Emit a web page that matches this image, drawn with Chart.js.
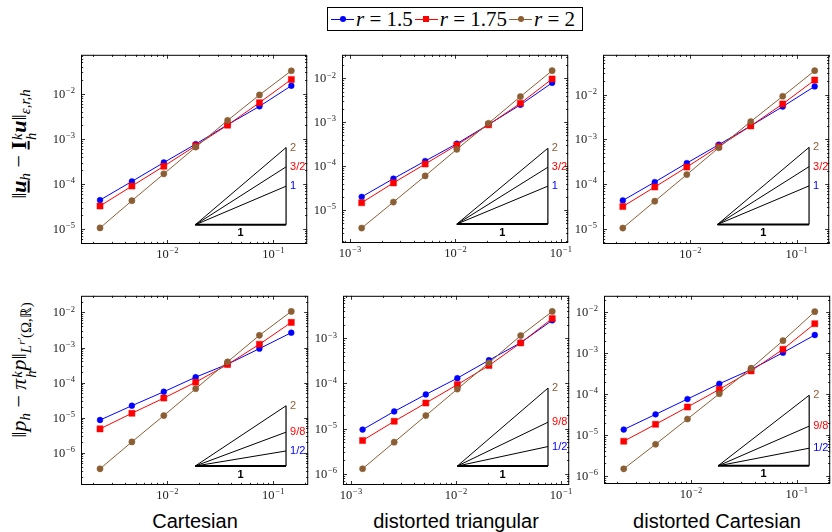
<!DOCTYPE html>
<html><head><meta charset="utf-8">
<script src="https://cdn.jsdelivr.net/npm/chart.js@4.4.1/dist/chart.umd.min.js"></script>
<style>
html,body{margin:0;padding:0;background:#fff;width:832px;height:532px;overflow:hidden;position:relative;}
canvas.p{position:absolute;}
.yt{position:absolute;transform:translate(-50%,-50%) rotate(-90deg);white-space:nowrap;font-family:'Liberation Serif',serif;font-size:22px;line-height:1;color:#000;}
.sb{font-size:0.68em;vertical-align:-0.32em;font-style:italic;}
.ss{display:inline-flex;flex-direction:column;font-size:0.66em;line-height:1;vertical-align:0.3em;font-style:italic;margin-left:1px;}
.ul{text-decoration:underline;text-decoration-thickness:1.5px;text-underline-offset:2px;}
.xt{position:absolute;font-family:'Liberation Sans',Arial,sans-serif;font-size:20px;color:#000;transform:translateX(-50%);white-space:nowrap;line-height:1;}
#legend{position:absolute;left:327px;top:7px;width:256px;height:24px;border:1px solid #000;display:flex;align-items:center;box-sizing:border-box;padding-left:3px;font-family:'Liberation Serif',serif;font-size:21px;}
.li{display:flex;align-items:center;}
.smp{position:relative;width:23px;height:12px;margin-right:2px;}
.smp .ln{position:absolute;left:0;right:0;top:5.5px;height:1px;}
.smp .mk{position:absolute;left:50%;top:50%;transform:translate(-50%,-50%);}
.lt{margin-right:2px;}
</style></head><body>
<div id="legend">
  <div class="li"><div class="smp"><div class="ln" style="background:#0000ff"></div><div class="mk" style="width:6px;height:6px;border-radius:50%;background:#0000ff"></div></div><span class="lt"><i>r</i> = 1.5</span></div>
  <div class="li"><div class="smp"><div class="ln" style="background:#ff0000"></div><div class="mk" style="width:6px;height:6px;background:#ff0000"></div></div><span class="lt"><i>r</i> = 1.75</span></div>
  <div class="li"><div class="smp"><div class="ln" style="background:#8b5e34"></div><div class="mk" style="width:6px;height:6px;border-radius:50%;background:#8b5e34"></div></div><span class="lt"><i>r</i> = 2</span></div>
</div>
<div class="yt" style="left:23px;top:144px">‖<b><i class="ul">u</i></b><span class="sb">h</span> − <b class="ul">I</b><span class="ss"><span>k</span><span>h</span></span><b><i>u</i></b>‖<span class="sb">ε,r,h</span></div>
<div class="yt" style="left:23px;top:370px">‖<i>p</i><span class="sb">h</span> − <i>π</i><span class="ss"><span>k</span><span>h</span></span><i>p</i>‖<span class="sb"><i>L</i><sup style="font-size:0.75em">r′</sup><span style="font-style:normal">(Ω,ℝ)</span></span></div>
<div class="xt" style="left:195px;top:511px">Cartesian</div>
<div class="xt" style="left:456px;top:511px">distorted triangular</div>
<div class="xt" style="left:717px;top:511px">distorted Cartesian</div>
<script>
// mesh sizes h (left to right)
const hCart = [0.00231, 0.00462, 0.00925, 0.0185, 0.037, 0.074, 0.148];
const hTri  = [0.00129, 0.00258, 0.00516, 0.0103, 0.0206, 0.0413, 0.0825];
const seriesNames = ['r = 1.5', 'r = 1.75', 'r = 2'];
// top row: velocity error, Cartesian
const uCart15  = [4.4e-5, 1.14e-4, 3.0e-4, 7.7e-4, 2.07e-3, 5.3e-3, 1.52e-2];
const uCart175 = [3.25e-5, 9.0e-5, 2.48e-4, 7.1e-4, 2.03e-3, 6.4e-3, 2.1e-2];
const uCart2   = [1.06e-5, 4.26e-5, 1.68e-4, 6.6e-4, 2.58e-3, 9.5e-3, 3.27e-2];
// top row: distorted triangular
const uTri15   = [2.0e-5, 5.2e-5, 1.31e-4, 3.25e-4, 8.9e-4, 2.5e-3, 7.9e-3];
const uTri175  = [1.47e-5, 4.16e-5, 1.12e-4, 3.03e-4, 8.77e-4, 2.71e-3, 9.7e-3];
const uTri2    = [3.9e-6, 1.52e-5, 6.0e-5, 2.42e-4, 9.5e-4, 3.85e-3, 1.5e-2];
// top row: distorted Cartesian
const uDist15  = [4.3e-5, 1.11e-4, 2.95e-4, 7.6e-4, 2.0e-3, 5.4e-3, 1.53e-2];
const uDist175 = [3.15e-5, 8.6e-5, 2.4e-4, 6.95e-4, 2.0e-3, 6.2e-3, 2.12e-2];
const uDist2   = [1.04e-5, 4.14e-5, 1.63e-4, 6.5e-4, 2.5e-3, 9.2e-3, 3.43e-2];
// bottom row: pressure error
const pCart15  = [8.6e-6, 2.2e-5, 5.5e-5, 1.43e-4, 3.35e-4, 9.3e-4, 2.65e-3];
const pCart175 = [4.8e-6, 1.34e-5, 3.63e-5, 1.03e-4, 3.28e-4, 1.24e-3, 5.2e-3];
const pCart2   = [3.5e-7, 2.05e-6, 1.15e-5, 6.7e-5, 3.9e-4, 2.23e-3, 1.07e-2];
const pTri15   = [9.5e-6, 2.4e-5, 5.7e-5, 1.31e-4, 3.27e-4, 8.0e-4, 2.5e-3];
const pTri175  = [5.45e-6, 1.45e-5, 3.68e-5, 9.4e-5, 2.5e-4, 7.9e-4, 2.76e-3];
const pTri2    = [1.29e-6, 5.0e-6, 1.94e-5, 7.5e-5, 2.86e-4, 1.15e-3, 3.95e-3];
const pDist15  = [1.35e-5, 3.17e-5, 7.5e-5, 1.77e-4, 3.94e-4, 1.02e-3, 2.75e-3];
const pDist175 = [7.0e-6, 1.81e-5, 4.78e-5, 1.29e-4, 3.66e-4, 1.23e-3, 5.2e-3];
const pDist2   = [1.48e-6, 5.9e-6, 2.44e-5, 1.01e-4, 4.25e-4, 2.0e-3, 1.02e-2];
// slope triangles
const slopesTop = [1, 1.5, 2];
const slopeLabelsTop = ['1', '3/2', '2'];
const slopesBot = [0.5, 1.125, 2];
const slopeLabelsBot = ['1/2', '9/8', '2'];
const triCartTop = {x0: 0.0183, y0: 1.24e-5, x1: 0.132};
const triTriTop  = {x0: 0.0103, y0: 4.8e-6,  x1: 0.0752};
const triDistTop = {x0: 0.0180, y0: 1.25e-5, x1: 0.131};
const triCartBot = {x0: 0.0183, y0: 4.2e-7,  x1: 0.132};
const triTriBot  = {x0: 0.0103, y0: 1.48e-6, x1: 0.0752};
const triDistBot = {x0: 0.0180, y0: 1.75e-6, x1: 0.131};

const COL = ['#0000ff', '#ff0000', '#8b5e34'];
const panels = [
  {box:[81,54,308,244],  xr:[-2.816,-0.68],  yr:[-5.332,-1.131], h:hCart, s:[uCart15,uCart175,uCart2], tri:triCartTop, sl:slopesTop, lb:slopeLabelsTop},
  {box:[342,54,569,243], xr:[-3.076,-0.931], yr:[-5.75,-1.463],  h:hTri,  s:[uTri15,uTri175,uTri2],    tri:triTriTop,  sl:slopesTop, lb:slopeLabelsTop},
  {box:[603,54,830,244], xr:[-2.823,-0.693], yr:[-5.34,-1.109],  h:hCart, s:[uDist15,uDist175,uDist2], tri:triDistTop, sl:slopesTop, lb:slopeLabelsTop},
  {box:[81,295,309,485], xr:[-2.816,-0.67],  yr:[-6.917,-1.526], h:hCart, s:[pCart15,pCart175,pCart2], tri:triCartBot, sl:slopesBot, lb:slopeLabelsBot},
  {box:[343,295,570,485],xr:[-3.076,-0.922], yr:[-6.25,-2.058],  h:hTri,  s:[pTri15,pTri175,pTri2],    tri:triTriBot,  sl:slopesBot, lb:slopeLabelsBot},
  {box:[604,295,831,484],xr:[-2.823,-0.684], yr:[-6.2,-1.603],   h:hCart, s:[pDist15,pDist175,pDist2], tri:triDistBot, sl:slopesBot, lb:slopeLabelsBot},
];

const isPow10 = v => { const e = Math.log10(v); return Math.abs(e - Math.round(e)) < 1e-6; };
function logTicks(min, max) {
  const out = [];
  for (let e = Math.floor(Math.log10(min)); e <= Math.ceil(Math.log10(max)); e++)
    for (let m = 1; m <= 9; m++) { const v = m * Math.pow(10, e); if (v >= min * 0.9999 && v <= max * 1.0001) out.push(v); }
  return out;
}
const BASEF = '12.5px "Liberation Serif", serif';
const SUPF = '8.5px "Liberation Serif", serif';
// draws "10" with a raised exponent; (x, yc) = anchor, yc = vertical centre of "10"
function drawPow(ctx, v, x, yc, align) {
  const e = Math.round(Math.log10(v));
  const sup = (e < 0 ? '\u2212' : '') + Math.abs(e);
  ctx.font = BASEF; const wb = ctx.measureText('10').width;
  ctx.font = SUPF; const ws = ctx.measureText(sup).width;
  const tot = wb + 0.8 + ws;
  const x0 = align === 'right' ? x - tot : x - tot / 2;
  ctx.textAlign = 'left'; ctx.textBaseline = 'alphabetic';
  ctx.font = BASEF; ctx.fillText('10', x0, yc + 4);
  ctx.font = SUPF; ctx.fillText(sup, x0 + wb + 0.8, yc - 0.8);
}

const framePlugin = {
  id: 'frame',
  afterDraw(chart, args, o) {
    const {ctx, chartArea: a, scales: {x, y}} = chart;
    ctx.save();
    ctx.strokeStyle = '#000'; ctx.lineWidth = 0.8;
    ctx.beginPath();
    for (const t of x.ticks) {
      const len = isPow10(t.value) ? 4 : 2.2;
      const p = Math.round(x.getPixelForValue(t.value)) + 0.5;
      ctx.moveTo(p, a.bottom); ctx.lineTo(p, a.bottom - len);
      ctx.moveTo(p, a.top); ctx.lineTo(p, a.top + len);
    }
    for (const t of y.ticks) {
      const len = isPow10(t.value) ? 4 : 2.2;
      const p = Math.round(y.getPixelForValue(t.value)) + 0.5;
      ctx.moveTo(a.left, p); ctx.lineTo(a.left + len, p);
      ctx.moveTo(a.right, p); ctx.lineTo(a.right - len, p);
    }
    ctx.stroke();
    ctx.lineWidth = 1;
    ctx.strokeRect(a.left + 0.5, a.top + 0.5, a.width - 1, a.height - 1);
    // tick labels (powers of ten)
    ctx.fillStyle = '#222';
    for (const t of x.ticks) if (isPow10(t.value)) drawPow(ctx, t.value, x.getPixelForValue(t.value), a.bottom + 9.5, 'center');
    for (const t of y.ticks) if (isPow10(t.value)) drawPow(ctx, t.value, a.left - 6, y.getPixelForValue(t.value), 'right');
    // slope labels
    const tr = o.tri;
    ctx.font = '11px "Liberation Sans", Arial, sans-serif';
    ctx.textAlign = 'left'; ctx.textBaseline = 'middle';
    const xr = x.getPixelForValue(tr.x1);
    o.sl.forEach((s, i) => {
      const yv = tr.y0 * Math.pow(tr.x1 / tr.x0, s);
      ctx.fillStyle = COL[i];
      ctx.fillText(o.lb[i], xr + 4, y.getPixelForValue(yv));
    });
    ctx.fillStyle = '#000';
    ctx.font = 'bold 11px "Liberation Sans", Arial, sans-serif';
    ctx.textAlign = 'center'; ctx.textBaseline = 'top';
    ctx.fillText('1', (x.getPixelForValue(tr.x0) + xr) / 2, y.getPixelForValue(tr.y0) + 3);
    ctx.restore();
  }
};

function fixAxis(w, h) {
  return function (scale) {
    if (w !== null) scale.width = w;
    if (h !== null) scale.height = h;
    scale.paddingLeft = scale.paddingRight = scale.paddingTop = scale.paddingBottom = 0;
  };
}

panels.forEach((P, k) => {
  const [L, T, R, B] = P.box;
  const cv = document.createElement('canvas');
  cv.className = 'p';
  cv.width = R - L + 50; cv.height = B - T + 30;
  cv.style.left = (L - 46) + 'px'; cv.style.top = (T - 4) + 'px';
  document.body.appendChild(cv);
  const styles = ['circle', 'rect', 'circle'];
  const radii = [2.9, 4.3, 3.1];
  const ds = P.s.map((vals, i) => ({
    label: seriesNames[i],
    data: P.h.map((hx, j) => ({x: hx, y: vals[j]})),
    borderColor: COL[i], backgroundColor: COL[i], borderWidth: 1,
    pointStyle: styles[i], pointRadius: radii[i], pointBorderWidth: 0.5, pointBorderColor: COL[i],
    order: 3 - i, tension: 0
  }));
  const t = P.tri;
  const topY = s => t.y0 * Math.pow(t.x1 / t.x0, s);
  const tri = [];
  tri.push({data: [{x: t.x0, y: t.y0}, {x: t.x1, y: t.y0}], borderWidth: 2});
  tri.push({data: [{x: t.x1, y: t.y0}, {x: t.x1, y: topY(P.sl[2])}], borderWidth: 1.2});
  P.sl.forEach(s => tri.push({data: [{x: t.x0, y: t.y0}, {x: t.x1, y: topY(s)}], borderWidth: 1}));
  tri.forEach(d => { d.borderColor = '#000'; d.pointRadius = 0; d.order = 10; d.label = ''; });
  const axisCommon = {
    type: 'logarithmic',
    grid: {display: false, drawTicks: false, tickLength: 0}, border: {display: false},
    afterBuildTicks: s => { s.ticks = logTicks(s.min, s.max).map(v => ({value: v})); },
    ticks: {display: false, autoSkip: false}
  };
  new Chart(cv, {
    type: 'line',
    data: {datasets: ds.concat(tri)},
    options: {
      responsive: false, animation: false, devicePixelRatio: 1,
      layout: {padding: {left: 0, top: 4, right: 4, bottom: 0}},
      plugins: {legend: {display: false}, tooltip: {enabled: false},
        frame: {tri: P.tri, sl: P.sl, lb: P.lb}},
      scales: {
        x: Object.assign({}, axisCommon, {min: Math.pow(10, P.xr[0]), max: Math.pow(10, P.xr[1]), afterFit: fixAxis(null, 26)}),
        y: Object.assign({}, axisCommon, {min: Math.pow(10, P.yr[0]), max: Math.pow(10, P.yr[1]), afterFit: fixAxis(46, null)})
      }
    },
    plugins: [framePlugin]
  });
});
</script>
</body></html>
